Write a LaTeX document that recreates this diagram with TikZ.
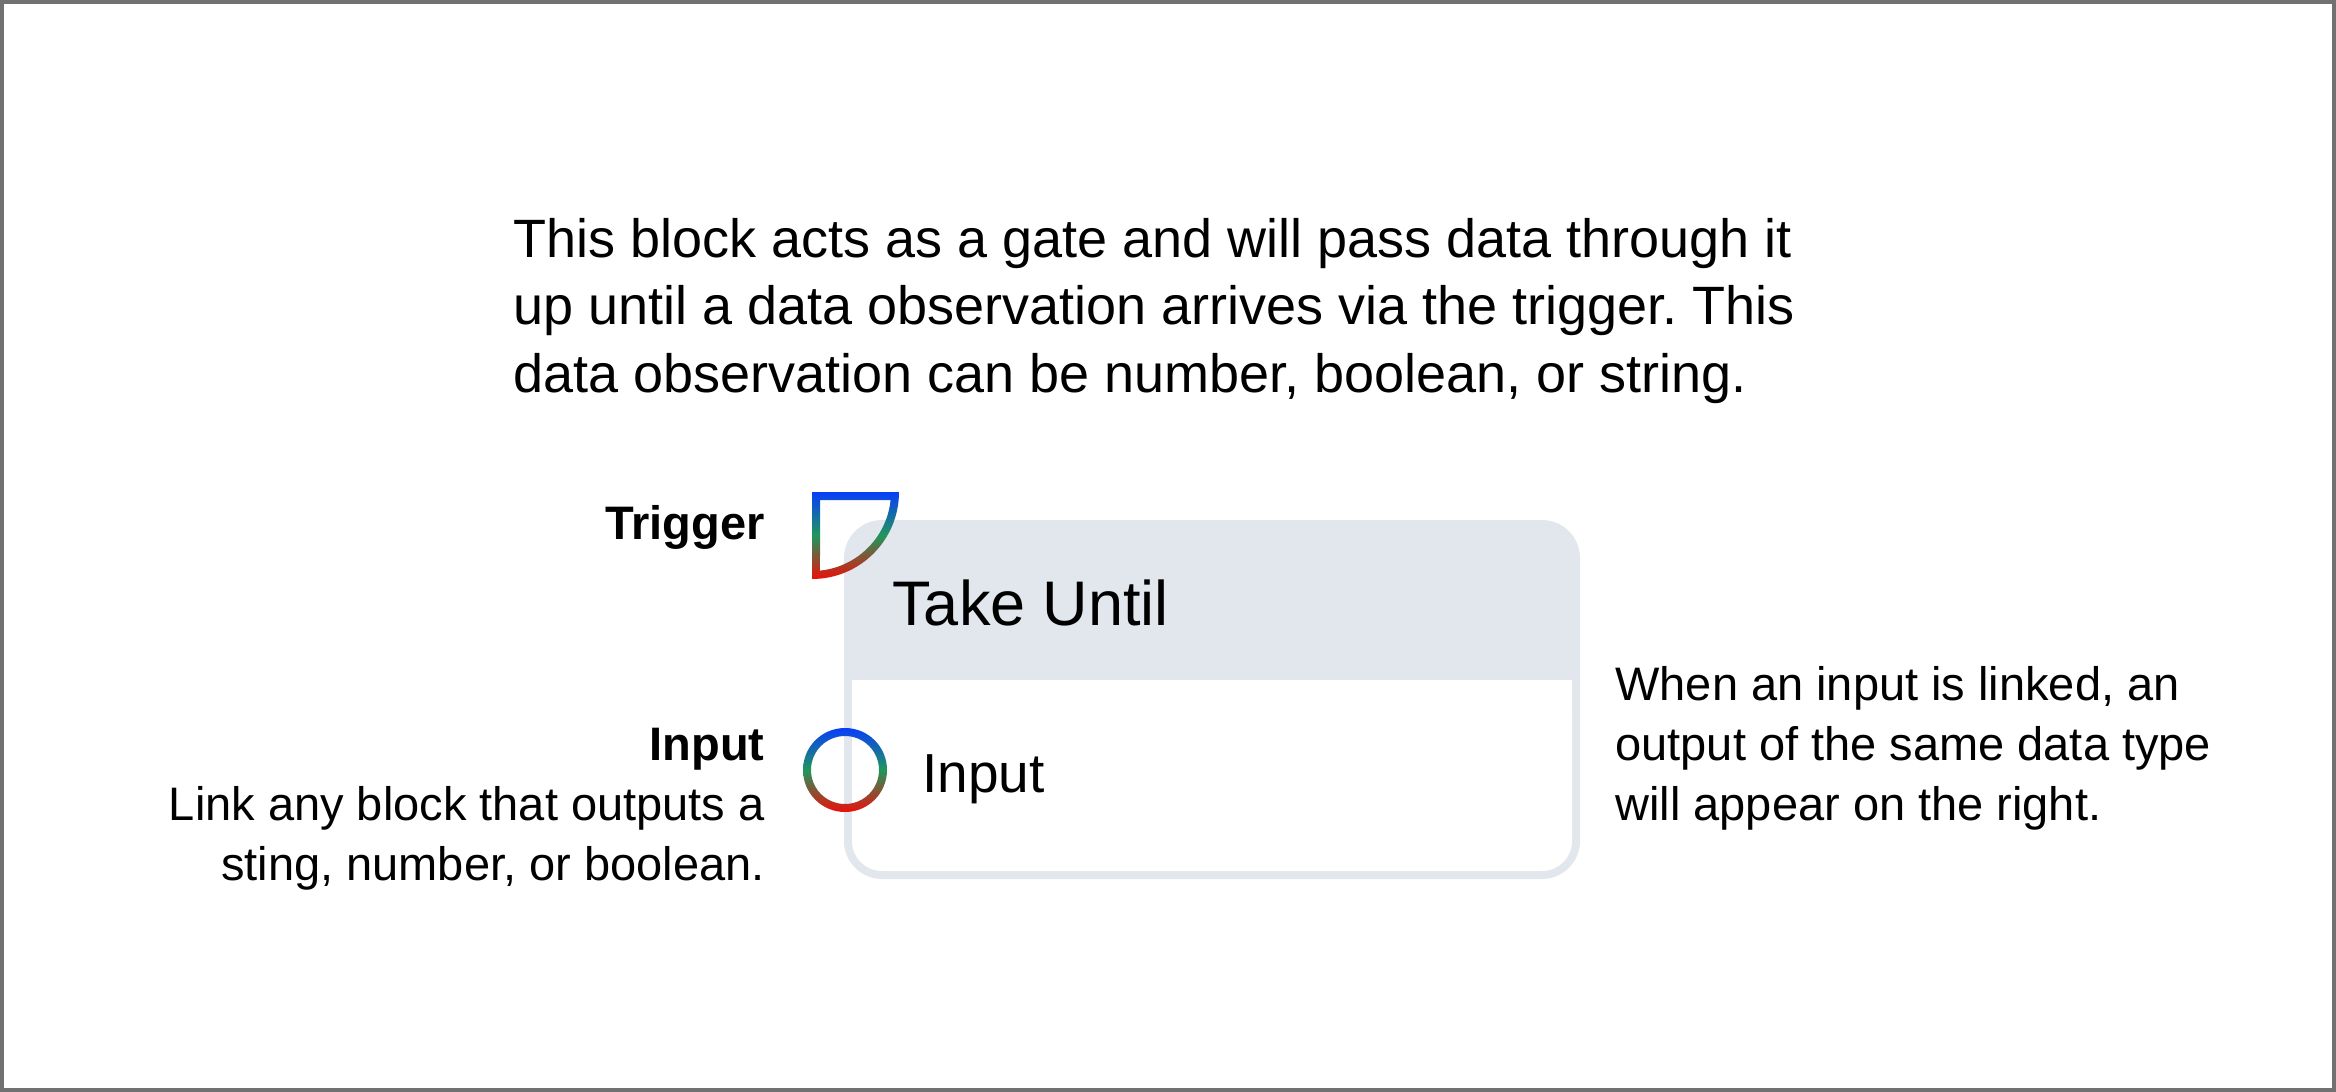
\documentclass[tikz,border=0pt]{standalone}
\usepackage{fontspec}
\setmainfont{Liberation Sans}
\definecolor{framegray}{RGB}{113, 113, 113}
\definecolor{blockfill}{RGB}{226, 230, 237}
\definecolor{portblue}{RGB}{8, 62, 250}
\definecolor{portgreen}{RGB}{32, 150, 92}
\definecolor{portred}{RGB}{236, 14, 10}
\tikzset{
    porthue/.style={top color=portblue, bottom color=portred,
        middle color=portgreen, even odd rule},
    desctext/.style={inner sep=0pt,
        font=\fontsize{27pt}{33.75pt}\selectfont\frenchspacing},
    sidetext/.style={inner sep=0pt,
        font=\fontsize{23.5pt}{30pt}\selectfont\frenchspacing},
    portlabel/.style={inner sep=0pt,
        font=\fontsize{23.5pt}{30pt}\selectfont\bfseries},
}

\begin{document}
\begin{tikzpicture}[x=0.5pt, y=-0.5pt]
    \useasboundingbox (0,0) rectangle (2336,1092);
    \draw[framegray, line width=2pt] (2,2) rectangle (2334,1090);
    % block body
    \fill[blockfill, rounded corners=19pt] (844,520) rectangle (1580,879);
    \fill[white, rounded corners=15pt] (852,680) rectangle (1572,871);
    \fill[white] (852,680) rectangle (1572,720);
    \node[anchor=base west, inner sep=0pt,
        font=\fontsize{31.5pt}{36pt}\selectfont] (title) at (892,625)
        {Take Until};
    \node[anchor=base west, inner sep=0pt,
        font=\fontsize{27.5pt}{32pt}\selectfont] (inname) at (922,792)
        {Input};
    % ports
    \coordinate (trigport) at (812,492);
    \coordinate (inport) at (845,770);
    \shade[porthue] (trigport) -- ++(87,0)
        arc[start angle=0, end angle=90, radius=87] -- cycle
        (820,500) -- (890.6,500)
        arc[start angle=5.8, end angle=84.2, radius=79] -- cycle;
    \shade[porthue] (inport) circle (21pt) (inport) circle (17pt);
    % multi-line nodes sit on their last baseline
    \node[desctext, anchor=base west, align=left] (about) at (513,392)
        {This block acts as a gate and will pass data through it\\
        up until a data observation arrives via the trigger. This\\
        data observation can be number, boolean, or string.};
    \node[portlabel, anchor=base east] (triglabel) at (765,539) {Trigger};
    \node[portlabel, anchor=base east] (inlabel) at (765,760) {Input};
    \node[sidetext, anchor=base east, align=right] (inhelp) at (765,880)
        {Link any block that outputs a\\sting, number, or boolean.};
    \node[sidetext, anchor=base west, align=left] (outhelp) at (1615,820)
        {When an input is linked, an\\output of the same data type\\
        will appear on the right.};
\end{tikzpicture}
\end{document}
